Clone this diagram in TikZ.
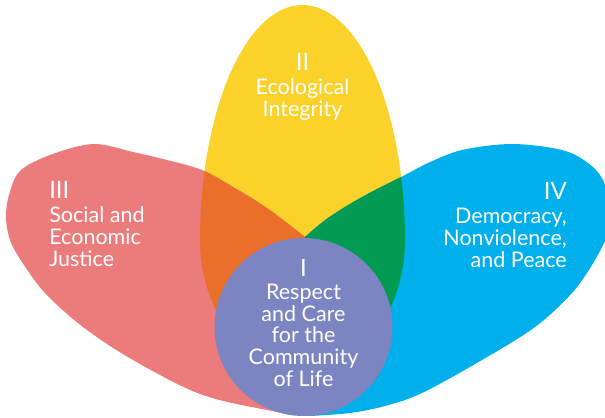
\documentclass[tikz,border=0pt]{standalone}
\usepackage{fontspec}
\setmainfont{Lato}
\definecolor{petalyellow}{HTML}{FAD22A}
\definecolor{petalred}{HTML}{EC7B7C}
\definecolor{petalblue}{HTML}{00B0EC}
\definecolor{mixorange}{HTML}{E96F2B}
\definecolor{mixgreen}{HTML}{009A53}
\definecolor{corepurple}{HTML}{7C85C1}
\newcommand\numfont{\fontsize{17}{15.4}\selectfont}
\begin{document}
\begin{tikzpicture}[x=0.025cm,y=-0.025cm,
  petaltext/.style={text=white,inner sep=0pt,font=\fontsize{15.3}{15.4}\selectfont}]
  \useasboundingbox (0,0) rectangle (605,417);
  \fill[petalyellow,save path=\yellowpetal]
    plot[domain=0:180,samples=61] ({302.5+102.5*cos(\x)},{240-235*sin(\x)})
    -- plot[domain=180:360,samples=61] ({302.5+102.5*cos(\x)},{240-131*sin(\x)}) -- cycle;
  \fill[petalred,save path=\redpetal]
    plot[smooth,tension=0.55] coordinates {(305,237) (267,208) (233,187) (202,170) (167,160)
      (133,152) (93,144) (50,155) (20,171) (9,195) (6,217) (10,240) (22,262) (45,293)
      (83,327) (133,360) (200,394) (267,410) (310,416)} -- (330,330) -- cycle;
  \fill[petalblue,save path=\bluepetal]
    plot[smooth,tension=0.55] coordinates {(305,237) (328,218) (362,197) (405,175) (428,163)
      (462,150) (512,144) (562,150) (588,163) (603,180) (609,205) (609,230) (595,260)
      (572,293) (535,327) (482,360) (422,393) (385,406) (350,413) (310,416)} -- (290,330) -- cycle;
  \begin{scope}
    \clip[use path=\yellowpetal];
    \fill[mixorange,use path=\redpetal];
    \fill[mixgreen,use path=\bluepetal];
  \end{scope}
  \fill[corepurple] (303.5,327) circle[radius=89];

  \node[petaltext,align=center,anchor=north] (ecology) at (302.5,53)
    {{\numfont II}\\[2pt]Ecological\\Integrity};
  \node[petaltext,align=left,anchor=north west] (justice) at (49,181)
    {{\numfont III}\\[2pt]Social and\\Economic\\Justice};
  \node[petaltext,align=right,anchor=north east] (peace) at (567,182)
    {{\numfont IV}\\[2pt]Democracy,\\Nonviolence,\\and Peace};
  \node[petaltext,align=center,anchor=north] (respect) at (303.5,259)
    {{\numfont I}\\[1pt]Respect\\and Care\\for the\\Community\\of Life};
\end{tikzpicture}
\end{document}
